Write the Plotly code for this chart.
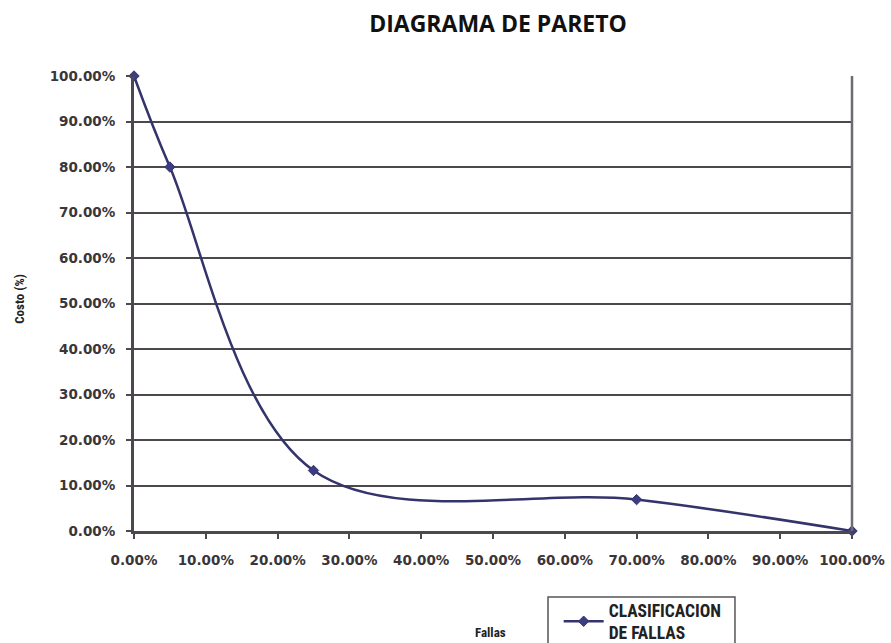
import plotly.graph_objects as go

# Pareto data: share of failures (x) vs. share of cost (y), in percent
fallas_pct = [0, 5, 25, 70, 100]
costo_pct = [100, 80, 13.3, 6.9, 0]
serie = "CLASIFICACION<br>DE FALLAS"

tick_vals = list(range(0, 101, 10))
tick_text = [f"{v:.2f}%" for v in tick_vals]

grid_col = "#4c484e"
line_col = "#34346c"
tick_font = dict(family="DejaVu Sans, Verdana, sans-serif", size=13.5, color="#3a3638", weight="bold")
narrow = "Liberation Sans Narrow, Roboto Condensed, Liberation Sans, sans-serif"

fig = go.Figure()
fig.add_trace(go.Scatter(
    x=fallas_pct, y=costo_pct, name=serie,
    mode="lines+markers",
    line=dict(color=line_col, width=2.5, shape="spline", smoothing=1.0),
    marker=dict(symbol="diamond", size=8, color="#3c3c82", line=dict(color=line_col, width=1)),
    cliponaxis=False,
))

fig.update_layout(
    width=891, height=643,
    margin=dict(l=134, r=39, t=76, b=112, autoexpand=False),
    paper_bgcolor="white", plot_bgcolor="white",
    title=dict(text="<b>DIAGRAMA DE PARETO</b>", x=0.507, xref="paper", y=0.962, yanchor="middle",
               font=dict(family="Open Sans, sans-serif", size=23, color="#111")),
    showlegend=True,
    legend=dict(xref="container", yref="container", x=0.627, y=0.0793, xanchor="left", yanchor="top",
                borderwidth=0, bgcolor="rgba(0,0,0,0)",
                font=dict(family=narrow, size=17.5, color="#222", weight="bold"),
                itemwidth=40),
    xaxis=dict(range=[0, 100], tickvals=tick_vals, ticktext=tick_text,
               showgrid=False, zeroline=False, automargin=False,
               showline=True, linecolor=grid_col, linewidth=3,
               ticks="outside", ticklen=5, tickwidth=2, tickcolor=grid_col,
               ticklabelstandoff=10, tickfont=tick_font),
    yaxis=dict(range=[0, 100], tickvals=tick_vals, ticktext=tick_text,
               showgrid=True, gridcolor=grid_col, gridwidth=2.2,
               zeroline=False, automargin=False,
               showline=True, linecolor=grid_col, linewidth=3,
               ticks="outside", ticklen=5, tickwidth=2, tickcolor=grid_col,
               ticklabelstandoff=8, tickfont=tick_font),
)

# right-hand border of the plot area
fig.add_shape(type="line", xref="paper", yref="paper", x0=1, x1=1, y0=0, y1=1,
              line=dict(color="#6e6a70", width=2.5))

# legend frame, running past the bottom edge of the page
fig.add_shape(type="rect", xref="paper", yref="paper", x0=0.5766, x1=0.837, y0=-0.145, y1=-0.35,
              line=dict(color="#555", width=1.5), fillcolor="rgba(0,0,0,0)", layer="below")

fig.add_annotation(text="<b>Fallas</b>", xref="paper", yref="paper", x=0.497, y=-0.222,
                   xanchor="center", yanchor="middle", showarrow=False,
                   font=dict(family=narrow, size=13, color="#222"))
fig.add_annotation(text="<b>Costo (%)</b>", xref="paper", yref="paper", x=-0.159, y=0.51,
                   xanchor="center", yanchor="middle", textangle=-90, showarrow=False,
                   font=dict(family=narrow, size=13, color="#222"))

fig.write_html("out.html")
